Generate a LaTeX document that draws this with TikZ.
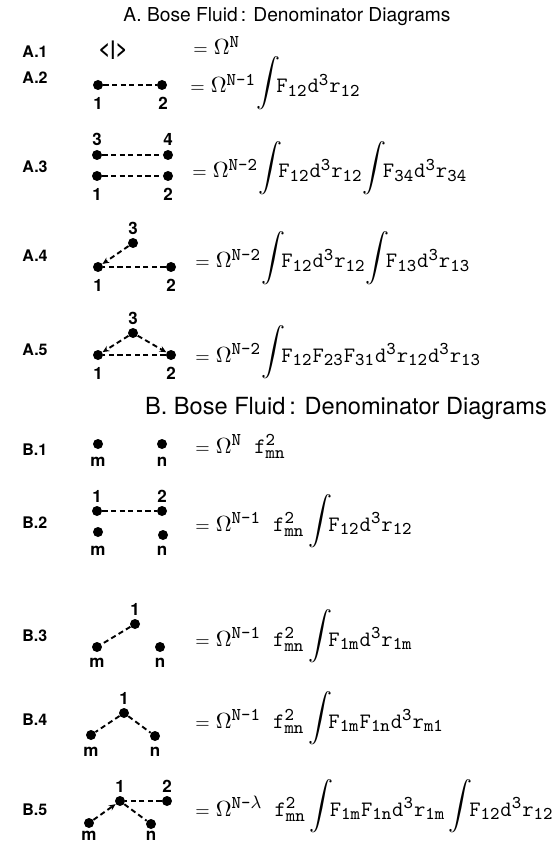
\documentclass[tikz,border=0pt]{standalone}
\usepackage{amsmath}
\usepackage{fontspec}
\setsansfont{TeX Gyre Heros}
\usetikzlibrary{arrows.meta}

\DeclareMathSizes{11}{11}{9}{7}
\newcommand{\tw}[1]{\text{\ttfamily #1}}
\newcommand{\eqs}{{\scriptstyle=}\;}
\newcommand{\intg}{\mathord{\raisebox{2pt}{\fontsize{12.5}{13}\selectfont$\displaystyle\int$}}\!}

\begin{document}
\begin{tikzpicture}[x=0.5pt, y=-0.5pt,
  dot/.style={circle, fill, inner sep=0pt, minimum size=5pt},
  bond/.style={dash pattern=on 2.6pt off 1.7pt, line width=0.95pt},
  tipped/.style={-{Stealth[length=3.4pt,width=3pt]}},
  num/.style={font=\sffamily\bfseries\fontsize{8.5}{9}\selectfont, inner sep=0pt},
  row/.style={font=\sffamily\bfseries\fontsize{8}{9}\selectfont, anchor=west, inner sep=0pt},
  eq/.style={anchor=base west, inner sep=0pt, font=\fontsize{11}{12}\selectfont},
  head/.style={font=\sffamily\fontsize{9.6}{11}\selectfont, inner sep=0pt}]
  \useasboundingbox (0,0) rectangle (553,844);

  % Part A heading
  \node[head] (titleA) at (287,17) {A. Bose Fluid\,: Denominator Diagrams};

  % A.1
  \node[row] (rowA1) at (22,52) {A.1};
  \node[num, font=\sffamily\bfseries\fontsize{10}{11}\selectfont] (braket) at (113,50) {<|>};
  \node[eq] (eqA1) at (193,55) {$\eqs\Omega^{\tw{N}}$};

  % A.2
  \node[row] (rowA2) at (22,78) {A.2};
  \node[dot] (a2one) at (98,85) {};
  \node[dot] (a2two) at (162,85) {};
  \node[num] at (98,103) {1};
  \node[num] at (163,103) {2};
  \draw[bond] (a2one) -- (a2two);
  \node[eq] (eqA2) at (190,93) {$\eqs\Omega^{\tw{N-1}}\intg\tw{F}_{\tw{12}}\tw{d}^{\tw{3}}\tw{r}_{\tw{12}}$};

  % A.3
  \node[row] (rowA3) at (22,167) {A.3};
  \node[dot] (a3three) at (97,155) {};
  \node[dot] (a3four) at (168,155) {};
  \node[dot] (a3one) at (97,176) {};
  \node[dot] (a3two) at (168,176) {};
  \node[num] at (97,139) {3};
  \node[num] at (168,139) {4};
  \node[num] at (97,194) {1};
  \node[num] at (168,194) {2};
  \draw[bond] (a3three) -- (a3four);
  \draw[bond] (a3one) -- (a3two);
  \node[eq] (eqA3) at (192,178) {$\eqs\Omega^{\tw{N-2}}\intg\tw{F}_{\tw{12}}\tw{d}^{\tw{3}}\tw{r}_{\tw{12}}\intg\tw{F}_{\tw{34}}\tw{d}^{\tw{3}}\tw{r}_{\tw{34}}$};

  % A.4
  \node[row] (rowA4) at (22,256) {A.4};
  \node[dot] (a4three) at (133,243) {};
  \node[dot] (a4one) at (98,267) {};
  \node[dot] (a4two) at (171,267) {};
  \node[num] at (133,228) {3};
  \node[num] at (98,285) {1};
  \node[num] at (171,285) {2};
  \draw[bond, tipped] (a4three) -- (a4one);
  \draw[bond] (a4two) -- (a4one);
  \node[eq] (eqA4) at (195,268) {$\eqs\Omega^{\tw{N-2}}\intg\tw{F}_{\tw{12}}\tw{d}^{\tw{3}}\tw{r}_{\tw{12}}\intg\tw{F}_{\tw{13}}\tw{d}^{\tw{3}}\tw{r}_{\tw{13}}$};

  % A.5
  \node[row] (rowA5) at (22,350) {A.5};
  \node[dot] (a5three) at (133,333) {};
  \node[dot] (a5one) at (98,355) {};
  \node[dot] (a5two) at (171,355) {};
  \node[num] at (133,318) {3};
  \node[num] at (98,373) {1};
  \node[num] at (171,373) {2};
  \draw[bond, tipped] (a5three) -- (a5one);
  \draw[bond, tipped] (a5three) -- (a5two);
  \draw[bond] (a5two) -- (a5one);
  \node[eq] (eqA5) at (195,362) {$\eqs\Omega^{\tw{N-2}}\intg\tw{F}_{\tw{12}}\tw{F}_{\tw{23}}\tw{F}_{\tw{31}}\tw{d}^{\tw{3}}\tw{r}_{\tw{12}}\tw{d}^{\tw{3}}\tw{r}_{\tw{13}}$};

  % Part B heading
  \node[head, font=\sffamily\fontsize{11.8}{13}\selectfont] (titleB) at (346,408) {B. Bose Fluid\,: Denominator Diagrams};

  % B.1
  \node[row] (rowB1) at (22,450) {B.1};
  \node[dot] (b1m) at (98,444) {};
  \node[dot] (b1n) at (162,444) {};
  \node[num] at (98,462) {m};
  \node[num] at (162,462) {n};
  \node[eq] (eqB1) at (195,453) {$\eqs\Omega^{\tw{N}}\;\;\tw{f}^{\tw{2}}_{\tw{mn}}$};

  % B.2
  \node[row] (rowB2) at (22,523) {B.2};
  \node[dot] (b2one) at (97,511) {};
  \node[dot] (b2two) at (162,511) {};
  \node[dot] (b2m) at (98,532) {};
  \node[dot] (b2n) at (163,535) {};
  \node[num] at (97,496) {1};
  \node[num] at (162,496) {2};
  \node[num] at (98,551) {m};
  \node[num] at (162,551) {n};
  \draw[bond] (b2one) -- (b2two);
  \node[eq] (eqB2) at (195,531) {$\eqs\Omega^{\tw{N-1}}\;\;\tw{f}^{\tw{2}}_{\tw{mn}}\,\intg\tw{F}_{\tw{12}}\tw{d}^{\tw{3}}\tw{r}_{\tw{12}}$};

  % B.3
  \node[row] (rowB3) at (22,636) {B.3};
  \node[dot] (b3one) at (135,624) {};
  \node[dot] (b3m) at (97,647) {};
  \node[dot] (b3n) at (160,647) {};
  \node[num] at (135,609) {1};
  \node[num] at (97,663) {m};
  \node[num] at (160,663) {n};
  \draw[bond] (b3one) -- (b3m);
  \node[eq] (eqB3) at (195,646) {$\eqs\Omega^{\tw{N-1}}\;\;\tw{f}^{\tw{2}}_{\tw{mn}}\,\intg\tw{F}_{\tw{1m}}\tw{d}^{\tw{3}}\tw{r}_{\tw{1m}}$};

  % B.4
  \node[row] (rowB4) at (22,720) {B.4};
  \node[dot] (b4one) at (124,713) {};
  \node[dot] (b4m) at (91,735) {};
  \node[dot] (b4n) at (155,736) {};
  \node[num] at (124,698) {1};
  \node[num] at (91,752) {m};
  \node[num] at (155,752) {n};
  \draw[bond] (b4one) -- (b4m);
  \draw[bond] (b4one) -- (b4n);
  \node[eq] (eqB4) at (195,728) {$\eqs\Omega^{\tw{N-1}}\;\;\tw{f}^{\tw{2}}_{\tw{mn}}\,\intg\tw{F}_{\tw{1m}}\tw{F}_{\tw{1n}}\tw{d}^{\tw{3}}\tw{r}_{\tw{m1}}$};

  % B.5
  \node[row] (rowB5) at (22,810) {B.5};
  \node[dot] (b5one) at (120,801) {};
  \node[dot] (b5two) at (167,801) {};
  \node[dot] (b5m) at (89,823) {};
  \node[dot] (b5n) at (151,824) {};
  \node[num] at (120,786) {1};
  \node[num] at (167,786) {2};
  \node[num] at (89,836) {m};
  \node[num] at (151,836) {n};
  \draw[bond, tipped] (b5m) -- (b5one);
  \draw[bond] (b5one) -- (b5n);
  \draw[bond] (b5two) -- (b5one);
  \node[eq] (eqB5) at (195,816) {$\eqs\Omega^{\tw{N-}\lambda}\;\;\tw{f}^{\tw{2}}_{\tw{mn}}\,\intg\tw{F}_{\tw{1m}}\tw{F}_{\tw{1n}}\tw{d}^{\tw{3}}\tw{r}_{\tw{1m}}\,\intg\tw{F}_{\tw{12}}\tw{d}^{\tw{3}}\tw{r}_{\tw{12}}$};
\end{tikzpicture}
\end{document}
